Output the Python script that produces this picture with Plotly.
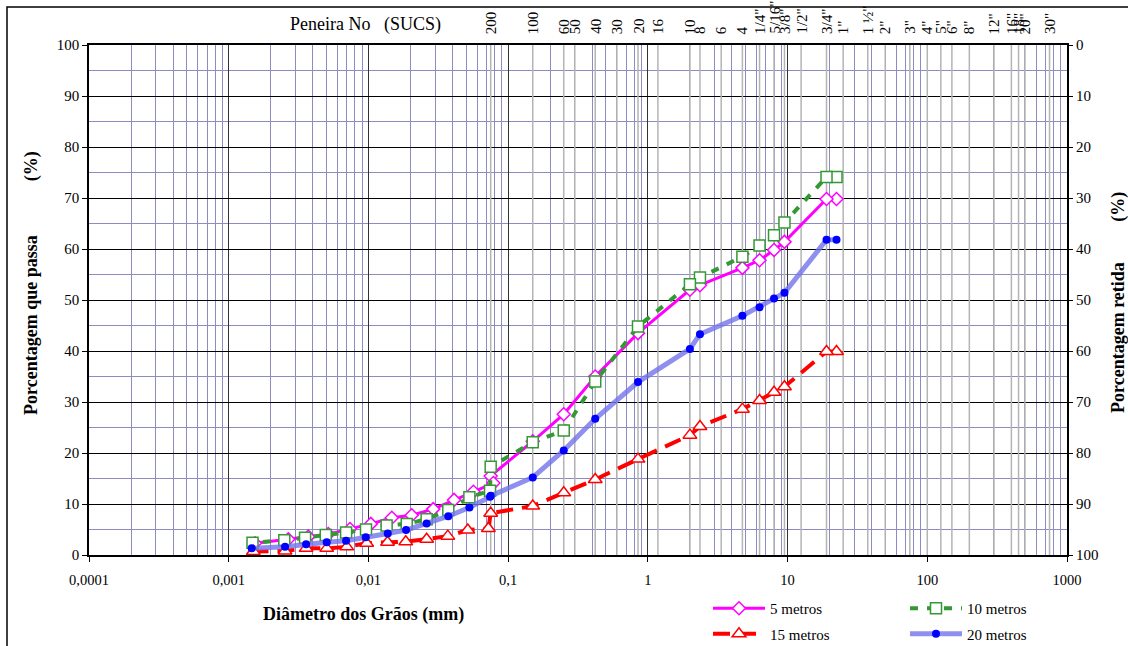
import numpy as np
import plotly.graph_objects as go

# ---------------- data ----------------
# 5 metros
d5 = [22.4, 19, 9.5, 8.0, 6.3, 4.75, 2.36, 2.0, 0.85, 0.42, 0.25, 0.15, 0.075,
      0.0784, 0.0564, 0.0410, 0.0291, 0.0204, 0.0147, 0.0104, 0.00738, 0.00516, 0.00371, 0.00267, 0.00154]
p5 = [69.8, 69.8, 61.4, 59.8, 57.8, 56.3, 52.9, 52.0, 43.5, 35.0, 27.6, 22.3, 15.5,
      14.1, 12.4, 10.8, 9.0, 7.8, 7.3, 6.1, 5.1, 4.1, 3.6, 3.1, 2.3]
# 10 metros
d10 = [22.4, 19, 9.5, 8.0, 6.3, 4.75, 2.36, 2.0, 0.85, 0.42, 0.25, 0.15, 0.075,
       0.0742, 0.0528, 0.0373, 0.0261, 0.0188, 0.0135, 0.00961, 0.00692, 0.00495, 0.00352, 0.0025, 0.00148]
p10 = [74.1, 74.1, 65.2, 62.7, 60.7, 58.5, 54.4, 53.1, 44.8, 34.0, 24.4, 22.1, 17.3,
       12.6, 11.3, 8.8, 7.0, 6.1, 5.8, 5.0, 4.4, 3.9, 3.4, 2.9, 2.4]
# 15 metros
d15 = [22.4, 19, 9.5, 8.0, 6.3, 4.75, 2.36, 2.0, 0.85, 0.42, 0.25, 0.15, 0.075,
       0.0722, 0.0514, 0.0370, 0.0261, 0.0185, 0.0137, 0.00972, 0.0070, 0.00503, 0.00358, 0.00253, 0.0015]
p15 = [39.9, 39.9, 33.0, 31.9, 30.3, 28.6, 25.2, 23.5, 18.8, 14.8, 12.2, 9.6, 8.2,
       5.2, 4.9, 3.7, 3.1, 2.6, 2.5, 2.3, 1.6, 1.3, 1.3, 0.8, 0.7]
# 20 metros
d20 = [22.4, 19, 9.5, 8.0, 6.3, 4.75, 2.36, 2.0, 0.85, 0.42, 0.25, 0.15, 0.075,
       0.0742, 0.0528, 0.0373, 0.0261, 0.0186, 0.01375, 0.00957, 0.00692, 0.00503, 0.00358, 0.00253, 0.00146]
p20 = [61.8, 61.8, 51.4, 50.3, 48.6, 46.9, 43.3, 40.4, 33.9, 26.7, 20.5, 15.2, 11.6,
       11.4, 9.3, 7.6, 6.2, 4.9, 4.2, 3.5, 2.8, 2.5, 2.1, 1.6, 1.3]

# sieve (SUCS) openings in mm and their labels
sieve_mm = [0.075, 0.15, 0.25, 0.30, 0.42, 0.60, 0.85, 1.18, 2.0, 2.36, 3.35, 4.75,
            6.3, 8.0, 9.5, 12.5, 19, 25, 37.5, 50, 75, 100, 125, 150, 200, 300, 400, 450, 500, 750]
sieve_labels = ["200", "100", "60", "50", "40", "30", "20", "16", "10", "8", "6", "4",
                '1/4"', '5/16"', '3/8"', '1/2"', '3/4"', '1"', '1 ½"', '2"', '3"', '4"', '5"', '6"',
                '8"', '12"', '16"', '18"', '20"', '30"']

x_ticks = [1e-4, 1e-3, 1e-2, 1e-1, 1, 10, 100, 1000]
x_ticktext = ["0,0001", "0,001", "0,01", "0,1", "1", "10", "100", "1000"]
y_ticks = [0, 10, 20, 30, 40, 50, 60, 70, 80, 90, 100]

# ---------------- layout geometry ----------------
W, H = 1128, 646
L, R, T, B = 89, 61, 45, 91
PW, PH = W - L - R, H - T - B
FONT = "Liberation Serif, Times New Roman, serif"


def px(xp):
    return (xp - L) / PW


def py(yp):
    return (H - B - yp) / PH


fig = go.Figure()

# sieve reference lines (light gray vertical lines)
gx, gy = [], []
for m in sieve_mm:
    gx += [m, m, None]
    gy += [0, 100, None]
fig.add_trace(go.Scatter(x=gx, y=gy, mode="lines", line=dict(color="#b4b4b4", width=1.5),
                         showlegend=False, hoverinfo="skip"))

fig.add_trace(go.Scatter(
    x=d5, y=p5, name="5 metros", mode="lines+markers", legend="legend", legendgroup="a",
    line=dict(color="#ff00ff", width=3),
    marker=dict(symbol="diamond", size=10, color="white", line=dict(color="#ff00ff", width=1.5))))
fig.add_trace(go.Scatter(
    x=d10, y=p10, name="10 metros", mode="lines+markers", legend="legend2", legendgroup="b",
    line=dict(color="#339933", width=4, dash="8px,9px"),
    marker=dict(symbol="square", size=11, color="white", line=dict(color="#339933", width=1.5))))
fig.add_trace(go.Scatter(
    x=d15, y=p15, name="15 metros", mode="lines+markers", legend="legend", legendgroup="c",
    line=dict(color="#ff0000", width=4, dash="17px,9px"),
    marker=dict(symbol="triangle-up", size=12, color="white", line=dict(color="#ff0000", width=1.5))))
fig.add_trace(go.Scatter(
    x=d20, y=p20, name="20 metros", mode="lines+markers", legend="legend2", legendgroup="d",
    line=dict(color="rgba(115,115,235,0.8)", width=5),
    marker=dict(symbol="circle", size=8, color="#0000ff", line=dict(width=0))))

# dummy trace on the right axis so it is drawn
fig.add_trace(go.Scatter(x=[1], y=[None], yaxis="y2", showlegend=False, hoverinfo="skip"))

ann = []
for m, lab in zip(sieve_mm, sieve_labels):
    ann.append(dict(x=np.log10(m), xref="x", y=py(36), yref="paper", text=lab, showarrow=False,
                    textangle=-90, xanchor="center", yanchor="bottom",
                    font=dict(family=FONT, size=15, color="black")))
ann.append(dict(x=px(365), y=py(25), xref="paper", yref="paper", text="Peneira No\u00a0\u00a0\u00a0(SUCS)",
                showarrow=False, xanchor="center", yanchor="middle",
                font=dict(family=FONT, size=18, color="black")))
ann.append(dict(x=px(363), y=py(614), xref="paper", yref="paper", text="<b>Diâmetro dos Grãos (mm)</b>",
                showarrow=False, xanchor="center", yanchor="middle",
                font=dict(family=FONT, size=18, color="black")))
ann.append(dict(x=px(31), y=py(283), xref="paper", yref="paper",
                text="<b>Porcentagem que passa" + "\u00a0" * 12 + "(%)</b>",
                showarrow=False, xanchor="center", yanchor="middle", textangle=-90,
                font=dict(family=FONT, size=18, color="black")))
ann.append(dict(x=px(1118), y=py(303), xref="paper", yref="paper",
                text="<b>Porcentagem retida" + "\u00a0" * 9 + "(%)</b>",
                showarrow=False, xanchor="center", yanchor="middle", textangle=-90,
                font=dict(family=FONT, size=18, color="black")))

fig.update_layout(
    width=W, height=H,
    margin=dict(l=L, r=R, t=T, b=B, autoexpand=False),
    paper_bgcolor="white", plot_bgcolor="white",
    font=dict(family=FONT, size=15, color="black"),
    xaxis=dict(type="log", range=[-4, 3], tickvals=x_ticks, ticktext=x_ticktext,
               ticks="outside", ticklen=5, tickcolor="black", tickfont=dict(size=14.5),
               ticklabelstandoff=6,
               showline=True, linecolor="black", linewidth=1.5, mirror=True,
               showgrid=True, gridcolor="#333333", gridwidth=1.4,
               minor=dict(dtick="D1", showgrid=True, gridcolor="#8c8cc0", gridwidth=1.2, ticks=""),
               zeroline=False),
    yaxis=dict(range=[0, 100], tickvals=y_ticks, ticks="outside", ticklen=5, tickcolor="black",
               tickfont=dict(size=15),
               showline=True, linecolor="black", linewidth=1.5, mirror=True,
               showgrid=True, gridcolor="black", gridwidth=1,
               minor=dict(dtick=5, showgrid=True, gridcolor="#8c8cc0", gridwidth=1.2, ticks=""),
               zeroline=False),
    yaxis2=dict(range=[100, 0], tickvals=y_ticks, overlaying="y", side="right", anchor="x",
                ticks="outside", ticklen=5, tickcolor="black", tickfont=dict(size=15),
                showgrid=False, zeroline=False, showline=False),
    legend=dict(x=px(708), y=py(592), xanchor="left", yanchor="top", orientation="v",
                bgcolor="rgba(0,0,0,0)", borderwidth=0, itemwidth=52, tracegroupgap=3,
                font=dict(family=FONT, size=15, color="black")),
    legend2=dict(x=px(905), y=py(592), xanchor="left", yanchor="top", orientation="v",
                 bgcolor="rgba(0,0,0,0)", borderwidth=0, itemwidth=52, tracegroupgap=3,
                 font=dict(family=FONT, size=15, color="black")),
    annotations=ann,
    shapes=[dict(type="rect", xref="paper", yref="paper", x0=px(7), x1=px(1140), y0=py(700), y1=py(7),
                 line=dict(color="black", width=1.5), fillcolor="rgba(0,0,0,0)", layer="below")],
    showlegend=True,
)

fig.write_html("out.html")
